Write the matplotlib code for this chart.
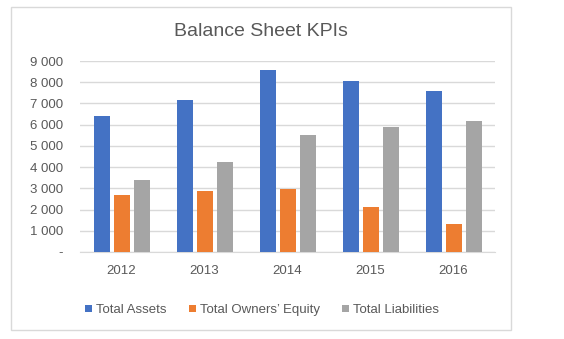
import numpy as np
import matplotlib.pyplot as plt
from matplotlib.patches import Rectangle

plt.rcParams['font.family'] = ['Liberation Sans', 'DejaVu Sans']

years = ['2012', '2013', '2014', '2015', '2016']
assets = [6430, 7170, 8590, 8070, 7590]
equity = [2690, 2890, 2990, 2120, 1320]
liabilities = [3400, 4250, 5520, 5900, 6180]

series = [('Total Assets', assets, '#4472C4'),
          ('Total Owners\u2019 Equity', equity, '#ED7D31'),
          ('Total Liabilities', liabilities, '#A5A5A5')]

fig = plt.figure(figsize=(5.64, 3.39), dpi=100)
ax = fig.add_axes([80/564, 1-252/339, 415/564, 191/339])

# chart frame
fig.patches.append(Rectangle((11/564, 1-330/339), 500/564, 323/339,
                             transform=fig.transFigure, fill=False,
                             edgecolor='#d9d9d9', linewidth=1))

x = np.arange(len(years))
w = 16/83
step = 20/83
for i, (name, vals, col) in enumerate(series):
    ax.bar(x + (i-1)*step, vals, width=w, color=col, label=name, zorder=3)

ax.set_xlim(-0.5, 4.5)
ax.set_ylim(0, 9000)
ax.set_yticks(range(0, 9001, 1000))
ax.set_yticklabels(['-'] + [f'{v:,}'.replace(',', ' ') for v in range(1000, 9001, 1000)])
ax.set_xticks(x)
ax.set_xticklabels(years)
ax.tick_params(length=0, labelsize=9.5, labelcolor='#595959')
ax.tick_params(axis='y', pad=12)
ax.tick_params(axis='x', pad=9)
ax.grid(axis='y', color='#d9d9d9', linewidth=1, zorder=0)
for s in ['top', 'right', 'left']:
    ax.spines[s].set_visible(False)
ax.spines['bottom'].set_color('#d9d9d9')

fig.text(261/564, 1-32/339, 'Balance Sheet KPIs', ha='center', va='center',
         fontsize=14, color='#595959')

fig.legend(loc='center', bbox_to_anchor=(262/564, 1-310/339), ncol=3,
           frameon=False, fontsize=9.5, labelcolor='#595959',
           handlelength=0.5, handleheight=0.5, handletextpad=0.3,
           columnspacing=1.7)

fig.savefig('out.png', dpi=100)
